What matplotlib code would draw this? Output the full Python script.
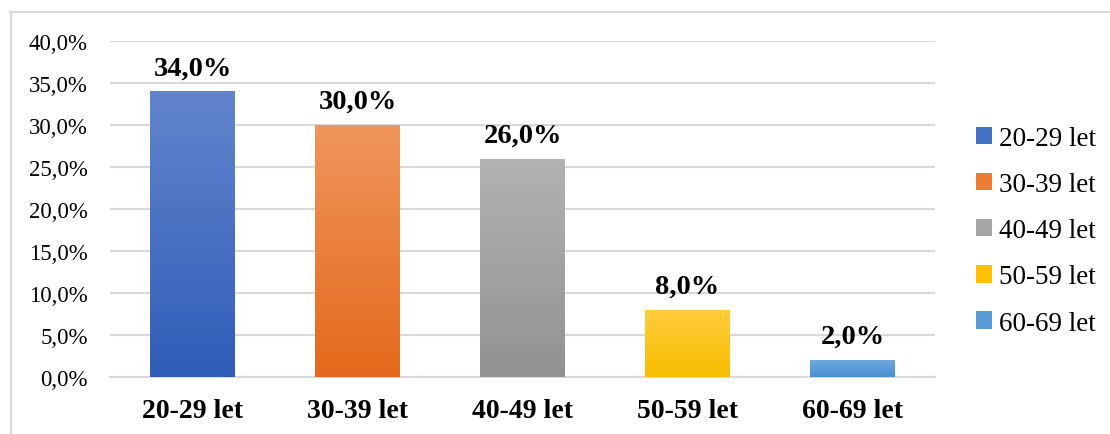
import matplotlib
matplotlib.use('Agg')
import matplotlib.pyplot as plt
import numpy as np
from matplotlib.colors import LinearSegmentedColormap
from matplotlib.patches import Patch
from matplotlib.lines import Line2D
from matplotlib.ticker import FuncFormatter

# age groups and share of respondents
categories = ['20-29 let', '30-39 let', '40-49 let', '50-59 let', '60-69 let']
shares = [34.0, 30.0, 26.0, 8.0, 2.0]
# (top, bottom) colours of each bar's gradient
top_colors = ['#6384cc', '#f0955c', '#b2b2b2', '#ffcc3c', '#6ea8de']
bottom_colors = ['#2f5eb8', '#e4691b', '#929292', '#f7bd00', '#4a8ed0']
mid_colors = ['#4472c4', '#ed7d31', '#a5a5a5', '#ffc000', '#5b9bd5']

plt.rcParams['font.family'] = ['Liberation Serif', 'DejaVu Serif']

fig = plt.figure(figsize = (11.1, 4.35), dpi = 100)
ax = fig.add_axes([0.0991, 0.131, 0.7432, 0.7724])

x = np.arange(len(categories))
bars = ax.bar(x, shares, width = 0.51, color = 'none', edgecolor = 'none', zorder = 3)

# fill each bar with a vertical gradient, clipped to the bar
grad = np.linspace(0, 1, 256).reshape(-1, 1)
for b, c_top, c_bot in zip(bars, top_colors, bottom_colors):
    cmap = LinearSegmentedColormap.from_list('g', [c_bot, c_top])
    x0 = b.get_x()
    im = ax.imshow(grad, cmap = cmap, aspect = 'auto', origin = 'lower',
                   extent = [x0, x0 + b.get_width(), 0, b.get_height()], zorder = 3)
    im.set_clip_path(b)

for b, v in zip(bars, shares):
    ax.annotate('{0:.1f}%'.format(v).replace('.', ','),
                (b.get_x() + b.get_width() / 2, v),
                xytext = (0, 8), textcoords = 'offset points',
                ha = 'center', va = 'bottom', fontsize = 20.5, fontweight = 'bold')

ax.set_xlim(-0.5, len(categories) - 0.5)
ax.set_ylim(0, 40)
ax.set_yticks(np.arange(0, 41, 5))
ax.yaxis.set_major_formatter(FuncFormatter(lambda v, p: '{0:.1f}%'.format(v).replace('.', ',')))
ax.set_xticks(x)
ax.set_xticklabels(categories, fontsize = 20, fontweight = 'bold')
ax.tick_params(axis = 'y', labelsize = 16.5, length = 0, pad = 16)
ax.tick_params(axis = 'x', length = 0, pad = 15)
ax.grid(axis = 'y', color = '#d9d9d9', linewidth = 1.5, zorder = 0)
for s in ['top', 'right', 'left']:
    ax.spines[s].set_visible(False)
ax.spines['bottom'].set_color('#d9d9d9')
ax.spines['bottom'].set_linewidth(1.5)
ax.set_axisbelow(True)

handles = [Patch(facecolor = c, edgecolor = 'none') for c in mid_colors]
fig.legend(handles, categories, loc = 'center left', bbox_to_anchor = (0.879, 0.467),
           frameon = False, fontsize = 19.5, handlelength = 0.6, handleheight = 0.6,
           handletextpad = 0.25, labelspacing = 0.78, borderpad = 0, borderaxespad = 0)

# chart frame: top and left edges
fig.add_artist(Line2D([10 / 1110, 1], [1 - 12.5 / 435, 1 - 12.5 / 435],
                      transform = fig.transFigure, color = '#d9d9d9', linewidth = 1.5))
fig.add_artist(Line2D([10.5 / 1110, 10.5 / 1110], [0, 1 - 12.5 / 435],
                      transform = fig.transFigure, color = '#d9d9d9', linewidth = 1.5))

fig.savefig('out.png', dpi = 100)
plt.close()
